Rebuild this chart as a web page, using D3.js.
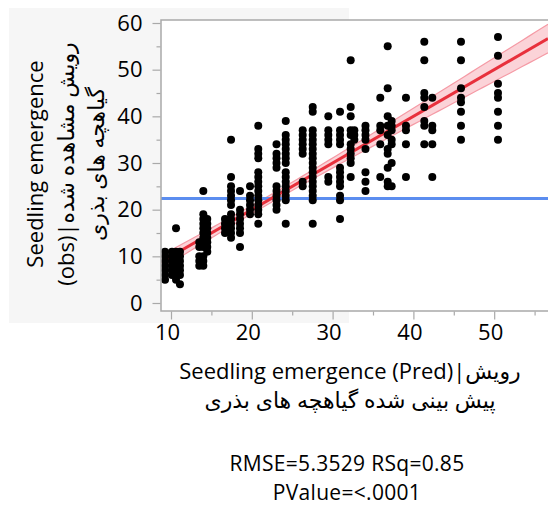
<!DOCTYPE html>
<html><head><meta charset="utf-8">
<script src="https://cdn.jsdelivr.net/npm/d3@7"></script>
<style>
body{margin:0;background:#fff}
text{font-family:"Open Sans","DejaVu Sans",sans-serif;fill:#000}
</style>
</head><body>
<svg id="chart" width="548" height="508"></svg>
<script>
// ---------- data ----------
const predLevels = [9.26, 10.12, 10.62, 11.11, 13.5, 14.0, 14.49, 16.68, 17.43, 18.54, 19.78, 20.8,
  23.06, 24.2, 26.3, 27.54, 29.47, 30.92, 32.24, 32.69, 34.07, 35.9, 36.82, 37.31, 39.08,
  41.35, 42.34, 45.89, 50.47];
const obsByLevel = [
  [11, 10, 9, 8, 7, 6, 5],
  [11, 10, 9, 8, 7, 6],
  [16, 11, 10, 9, 8, 7, 6, 5],
  [11, 10, 9, 8, 7, 6, 4],
  [13, 12, 10, 9, 8],
  [24, 19, 18, 17, 16, 15, 14, 13, 12, 10, 9, 8],
  [18, 17, 16, 15, 14, 13, 12, 11],
  [18, 17, 16, 15],
  [35, 27, 25, 24, 23, 22, 21, 19, 18, 17, 16, 15, 14],
  [24, 20, 19, 18, 17, 16, 15, 12],
  [25, 23, 22, 21, 20, 19],
  [38, 33, 32, 31, 28, 27, 26, 25, 24, 23, 22, 21, 20, 19, 17],
  [34, 32, 31, 30, 29, 25, 24, 23, 22, 21, 20],
  [39, 36, 35, 34, 33, 32, 31, 30, 28, 27, 26, 25, 24, 23, 22, 17],
  [37, 36, 35, 34, 33, 32, 26, 25],
  [42, 41, 37, 36, 35, 34, 33, 32, 31, 30, 29, 28, 27, 26, 25, 24, 23, 22, 17],
  [40, 37, 36, 35, 34, 27, 26],
  [41, 37, 36, 35, 34, 29, 28, 27, 26, 25, 23, 22, 18],
  [52, 42, 40, 37, 36, 34, 33, 32, 31, 30, 27],
  [37, 36, 35],
  [38, 37, 36, 35, 33, 28, 26, 24],
  [44, 38, 37, 34, 27],
  [55, 46, 40, 38, 36, 33, 32, 29, 26, 25],
  [39, 38, 37, 35, 34, 30, 25],
  [44, 38, 37, 34, 27],
  [56, 52, 45, 44, 42, 39, 38, 34],
  [44, 38, 37, 34, 27],
  [56, 52, 46, 44, 43, 41, 38, 35],
  [57, 53, 47, 45, 44, 41, 38, 35]
];
const xTicks = [10, 20, 30, 40, 50];
const xMinorTicks = [15, 25, 35, 45, 55];
const yTicks = [0, 10, 20, 30, 40, 50, 60];
const yMinorTicks = [5, 15, 25, 35, 45, 55];
const meanObs = 22.4;
const fitIntercept = 0, fitSlope = 1;
const bandHalfAtMean = 0.85, bandHalfGrowth = 0.086;  // confidence band half width (y units)
const yTitleLines = ["Seedling emergence", "(obs)|رویش مشاهده شده", "گیاهچه های بذری"];
const xTitleLines = ["Seedling emergence (Pred)|رویش", "پیش بینی شده گیاهچه های بذری"];
const statLines = ["RMSE=5.3529 RSq=0.85", "PValue=<.0001"];

// ---------- layout ----------
const FS = "22px";
const svg = d3.select("#chart");
const plot = {left: 161, right: 548, top: 20, bottom: 311};
const x = d3.scaleLinear().domain([8.762, 56.66]).range([plot.left, plot.right]);
const y = d3.scaleLinear().domain([-1.714, 60.643]).range([plot.bottom, plot.top]);

svg.append("rect").attr("x", 9).attr("y", 8).attr("width", 340).attr("height", 315).attr("fill", "#f6f6f6");
svg.append("rect").attr("x", plot.left).attr("y", plot.top)
  .attr("width", plot.right - plot.left).attr("height", plot.bottom - plot.top).attr("fill", "#fff");

svg.append("clipPath").attr("id", "clip").append("rect")
  .attr("x", plot.left).attr("y", plot.top).attr("width", plot.right - plot.left).attr("height", plot.bottom - plot.top);

const g = svg.append("g").attr("clip-path", "url(#clip)");

// confidence band
const xs = d3.range(0, 61).map(i => x.domain()[0] + i * (x.domain()[1] - x.domain()[0]) / 60);
const half = v => Math.sqrt(bandHalfAtMean ** 2 + (bandHalfGrowth * (v - meanObs)) ** 2);
const fit = v => fitIntercept + fitSlope * v;
g.append("path").datum(xs)
  .attr("d", d3.area().x(d => x(d)).y0(d => y(fit(d) - half(d))).y1(d => y(fit(d) + half(d))))
  .attr("fill", "#fbd3d8");
[-1, 1].forEach(s => {
  g.append("path").datum(xs)
    .attr("d", d3.line().x(d => x(d)).y(d => y(fit(d) + s * half(d))))
    .attr("fill", "none").attr("stroke", "#f59aa5").attr("stroke-width", 1.2);
});
// mean line
g.append("line").attr("x1", plot.left).attr("x2", plot.right)
  .attr("y1", y(meanObs)).attr("y2", y(meanObs))
  .attr("stroke", "#5b8def").attr("stroke-width", 3);
// fit line
g.append("path").datum(x.domain())
  .attr("d", d3.line().x(d => x(d)).y(d => y(fit(d))))
  .attr("stroke", "#e8303c").attr("stroke-width", 3).attr("fill", "none");

// points
const pts = [];
predLevels.forEach((p, i) => obsByLevel[i].forEach(o => pts.push([p, o])));
g.selectAll("circle").data(pts).enter().append("circle")
  .attr("cx", d => x(d[0])).attr("cy", d => y(d[1])).attr("r", 4).attr("fill", "#000");

// frame
svg.append("rect").attr("x", plot.left).attr("y", plot.top)
  .attr("width", plot.right - plot.left + 2).attr("height", plot.bottom - plot.top)
  .attr("fill", "none").attr("stroke", "#a9a9a9").attr("stroke-width", 1.5);

// axes
const axStyle = sel => { sel.select(".domain").remove(); sel.selectAll("line").attr("stroke", "#a9a9a9").attr("stroke-width", 1.2); sel.selectAll("text").style("font-size", FS).attr("fill", "#000"); };
svg.append("g").attr("transform", `translate(${plot.left - 0.5},0)`)
  .call(d3.axisLeft(y).tickValues(yMinorTicks).tickSize(4).tickFormat(""))
  .call(axStyle);
svg.append("g").attr("transform", `translate(${plot.left - 0.5},0)`)
  .call(d3.axisLeft(y).tickValues(yTicks).tickSize(8).tickPadding(10))
  .call(axStyle);
svg.append("g").attr("transform", `translate(0,${plot.bottom + 0.5})`)
  .call(d3.axisBottom(x).tickValues(xMinorTicks).tickSize(4).tickFormat(""))
  .call(axStyle);
const xa = svg.append("g").attr("transform", `translate(0,${plot.bottom + 0.5})`)
  .call(d3.axisBottom(x).tickValues(xTicks).tickSize(8).tickPadding(5))
  .call(axStyle);
xa.selectAll("text").attr("dx", -4);

// titles
const yt = svg.append("g").attr("transform", "translate(0,164)");
const yBase = [43, 74, 104];
yTitleLines.forEach((t, i) => {
  yt.append("text").attr("transform", `translate(${yBase[i]},0) rotate(-90)`)
    .attr("text-anchor", "middle").style("font-size", FS).text(t);
});
const xBase = [379, 408];
xTitleLines.forEach((t, i) => {
  svg.append("text").attr("x", 350).attr("y", xBase[i]).attr("text-anchor", "middle")
    .style("font-size", FS).text(t);
});
const sBase = [470.5, 499.5];
statLines.forEach((t, i) => {
  svg.append("text").attr("x", 347).attr("y", sBase[i]).attr("text-anchor", "middle")
    .style("font-size", "21px").style("letter-spacing", "0.3px").text(t);
});
</script>
</body></html>
